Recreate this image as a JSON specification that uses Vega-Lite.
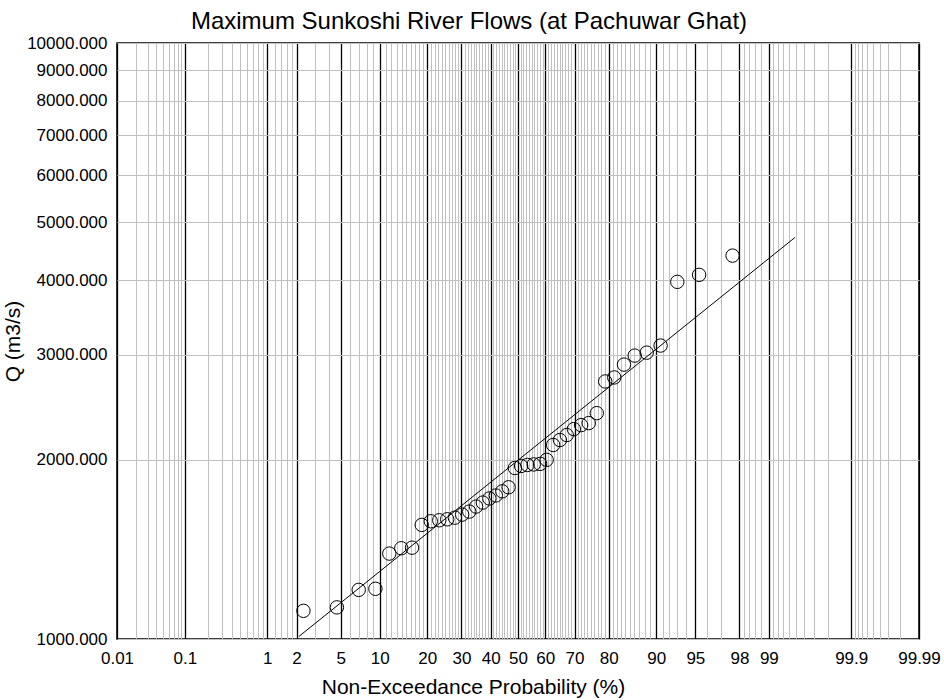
{
  "$schema": "https://vega.github.io/schema/vega-lite/v6.json",
  "width": 802,
  "height": 596,
  "autosize": {"type": "none"},
  "padding": {"left": 117, "top": 43, "right": 25, "bottom": 61},
  "background": "white",
  "config": {
    "view": {"stroke": "#000000", "strokeWidth": 1.5},
    "font": "Liberation Sans"
  },
  "title": {
    "text": "Maximum Sunkoshi River Flows (at Pachuwar Ghat)",
    "font": "Liberation Sans",
    "fontSize": 24,
    "fontWeight": "normal",
    "color": "#000000",
    "anchor": "middle",
    "frame": "group",
    "baseline": "alphabetic",
    "dx": -49,
    "dy": 30,
    "offset": 11
  },
  "datasets": {
    "obs": [
      {"p": 2.33, "Q": 1115}, {"p": 4.65, "Q": 1130}, {"p": 6.98, "Q": 1209}, {"p": 9.30, "Q": 1214},
      {"p": 11.63, "Q": 1391}, {"p": 13.95, "Q": 1420}, {"p": 16.28, "Q": 1423}, {"p": 18.60, "Q": 1554},
      {"p": 20.93, "Q": 1576}, {"p": 23.26, "Q": 1582}, {"p": 25.58, "Q": 1588}, {"p": 27.91, "Q": 1598},
      {"p": 30.23, "Q": 1617}, {"p": 32.56, "Q": 1636}, {"p": 34.88, "Q": 1668}, {"p": 37.21, "Q": 1694},
      {"p": 39.53, "Q": 1721}, {"p": 41.86, "Q": 1741}, {"p": 44.19, "Q": 1769}, {"p": 46.51, "Q": 1797},
      {"p": 48.84, "Q": 1936}, {"p": 51.16, "Q": 1951}, {"p": 53.49, "Q": 1959}, {"p": 55.81, "Q": 1963},
      {"p": 58.14, "Q": 1967}, {"p": 60.47, "Q": 1998}, {"p": 62.79, "Q": 2116}, {"p": 65.12, "Q": 2157},
      {"p": 67.44, "Q": 2199}, {"p": 69.77, "Q": 2250}, {"p": 72.09, "Q": 2285}, {"p": 74.42, "Q": 2303},
      {"p": 76.74, "Q": 2393}, {"p": 79.07, "Q": 2705}, {"p": 81.40, "Q": 2747}, {"p": 83.72, "Q": 2887},
      {"p": 86.05, "Q": 2989}, {"p": 88.37, "Q": 3023}, {"p": 90.70, "Q": 3107}, {"p": 93.02, "Q": 3974},
      {"p": 95.35, "Q": 4083}, {"p": 97.67, "Q": 4398}
    ],
    "fit": [
      {"p": 2.11, "Q": 1010},
      {"p": 99.49, "Q": 4718}
    ]
  },
  "resolve": {"axis": {"x": "independent", "y": "independent"}},
  "layer": [
    {
      "data": {"name": "obs"},
      "transform": [{"calculate": "quantileNormal(datum.p / 100)", "as": "z"}],
      "mark": {"type": "point", "shape": "circle", "filled": false, "stroke": "#000000", "strokeWidth": 1, "size": 180, "opacity": 1},
      "encoding": {
        "x": {
          "field": "z", "type": "quantitative",
          "scale": {"domain": [-3.719016, 3.719016], "nice": false, "zero": false},
          "axis": {
            "orient": "top", "title": null, "labels": false, "ticks": false, "domain": false,
            "minExtent": 0, "maxExtent": 0, "offset": 0,
            "grid": true, "gridColor": "#c0c0c0", "gridWidth": 1, "gridOpacity": 1,
            "values": [
              -3.540, -3.432, -3.353, -3.291, -3.239, -3.195, -3.156, -3.121,
              -2.878, -2.748, -2.652, -2.576, -2.512, -2.457, -2.409, -2.366,
              -2.257, -2.197, -2.144, -2.097,
              -1.881, -1.751,
              -1.555, -1.476, -1.405, -1.341,
              -1.227, -1.175, -1.126, -1.080, -1.036, -0.994, -0.954, -0.915, -0.878,
              -0.806, -0.772, -0.739, -0.706, -0.674, -0.643, -0.613, -0.583, -0.553,
              -0.496, -0.468, -0.440, -0.412, -0.385, -0.358, -0.332, -0.305, -0.279,
              -0.228, -0.202, -0.176, -0.151, -0.126, -0.100, -0.075, -0.050, -0.025,
              0.025, 0.050, 0.075, 0.100, 0.126, 0.151, 0.176, 0.202, 0.228,
              0.279, 0.305, 0.332, 0.358, 0.385, 0.412, 0.440, 0.468, 0.496,
              0.553, 0.583, 0.613, 0.643, 0.674, 0.706, 0.739, 0.772, 0.806,
              0.878, 0.915, 0.954, 0.994, 1.036, 1.080, 1.126, 1.175, 1.227,
              1.341, 1.405, 1.476, 1.555,
              1.751, 1.881,
              2.097, 2.144, 2.197, 2.257,
              2.366, 2.409, 2.457, 2.512, 2.576, 2.652, 2.748, 2.878,
              3.121, 3.156, 3.195, 3.239, 3.291, 3.353, 3.432, 3.540
            ]
          }
        },
        "y": {
          "field": "Q", "type": "quantitative",
          "scale": {"type": "log", "domain": [1000, 10000], "nice": false},
          "axis": null
        }
      }
    },
    {
      "data": {"name": "fit"},
      "transform": [{"calculate": "quantileNormal(datum.p / 100)", "as": "z"}],
      "mark": {"type": "line", "color": "#000000", "strokeWidth": 1},
      "encoding": {
        "x": {
          "field": "z", "type": "quantitative",
          "axis": {
            "orient": "bottom",
            "title": "Non-Exceedance Probability (%)",
            "titleFont": "Liberation Sans", "titleFontSize": 21, "titleFontWeight": "normal", "titleColor": "#000000",
            "titleX": 356, "titleY": 54, "titleAlign": "center", "titleBaseline": "alphabetic", "titleAnchor": null,
            "labelFont": "Liberation Sans", "labelFontSize": 17, "labelColor": "#000000",
            "labelPadding": 11, "labelFlush": false, "labelOverlap": false, "labelBound": false,
            "ticks": false, "tickSize": 0, "domain": false,
            "grid": true, "gridColor": "#000000", "gridWidth": 1.3, "gridOpacity": 1,
            "values": [-3.719016, -3.090232, -2.326348, -2.053749, -1.644854, -1.281552, -0.841621, -0.524401, -0.253347, 0, 0.253347, 0.524401, 0.841621, 1.281552, 1.644854, 2.053749, 2.326348, 3.090232, 3.719016],
            "labelExpr": "'' + round(cumulativeNormal(datum.value) * 10000) / 100"
          }
        },
        "y": {
          "field": "Q", "type": "quantitative",
          "axis": {
            "orient": "left",
            "title": "Q (m3/s)",
            "titleFont": "Liberation Sans", "titleFontSize": 21, "titleFontWeight": "normal", "titleColor": "#000000",
            "titleAngle": -90, "titleX": -98, "titleY": 298, "titleAlign": "center", "titleBaseline": "alphabetic", "titleAnchor": null,
            "labelFont": "Liberation Sans", "labelFontSize": 17, "labelColor": "#000000",
            "labelPadding": 10, "labelFlush": false, "labelOverlap": false, "labelBound": false,
            "ticks": false, "tickSize": 0, "domain": false,
            "grid": true, "gridColor": "#c0c0c0", "gridWidth": 1, "gridOpacity": 1,
            "values": [1000, 2000, 3000, 4000, 5000, 6000, 7000, 8000, 9000, 10000],
            "format": ".3f"
          }
        }
      }
    }
  ]
}
